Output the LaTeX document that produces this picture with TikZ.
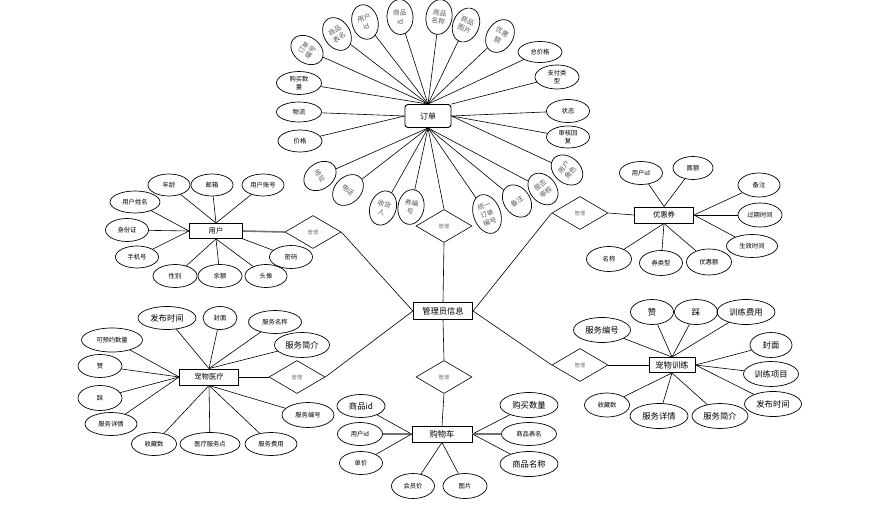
\documentclass[tikz,border=0pt]{standalone}
\usepackage{fontspec}
\setmainfont{Noto Sans CJK SC}
\usetikzlibrary{shapes.geometric}
\begin{document}
\begin{tikzpicture}[x=1pt,y=-1pt,
  ln/.style={line width=0.6pt},
  thk/.style={line width=1.6pt,black!55},
  sz/.style 2 args={minimum width=#1pt,minimum height=#2pt},
  attr/.style={ellipse,draw,line width=0.7pt,inner sep=0pt,align=center,
    font=\fontsize{6.3}{7.3}\selectfont,minimum width=43pt,minimum height=22pt},
  big/.style={font=\fontsize{8.3}{9}\selectfont},
  rotx/.style={attr,font=\fontsize{6.8}{8.6}\selectfont,minimum width=26pt,minimum height=35pt,text=black!65,rotate=#1},
  ent/.style={draw,line width=0.9pt,inner sep=0pt,font=\fontsize{7.3}{8}\selectfont},
  dia/.style={diamond,draw,line width=0.6pt,inner sep=0pt,minimum width=56pt,
    minimum height=33pt,font=\fontsize{5.3}{6}\selectfont,text=black!55}]
\useasboundingbox[fill=white] (0,0) rectangle (876,511);

% ---------- entities ----------
\node[ent,rounded corners=3pt,sz={46}{23},font=\fontsize{8}{9}\selectfont] (order) at (428,116) {订单};
\node[ent,sz={53}{15}] (user) at (216,231) {用户};
\node[ent,sz={59}{16}] (coupon) at (664,215) {优惠券};
\node[ent,sz={59}{16}] (med) at (209,377) {宠物医疗};
\node[ent,sz={60}{16},font=\fontsize{8.3}{9}\selectfont] (cart) at (442,434) {购物车};
\node[ent,sz={46}{15},font=\fontsize{8.3}{9}\selectfont] (train) at (672,365) {宠物训练};
\node[ent,sz={59}{17},line width=1.2pt,font=\fontsize{8.3}{9}\selectfont] (admin) at (443,311) {管理员信息};

% ---------- diamonds ----------
\node[dia] (dUser) at (313,232) {管理};
\node[dia] (dOrder) at (444,226) {管理};
\node[dia] (dCoupon) at (580,213) {管理};
\node[dia] (dMed) at (297,377) {管理};
\node[dia] (dCart) at (444,377) {管理};
\node[dia] (dTrain) at (580,365) {管理};

% ---------- order attributes ----------
\node[rotx=55] (o1) at (307,50) {订单\\编号};
\node[rotx=32] (o2) at (337,34) {商品\\表名};
\node[rotx=15] (o3) at (365,22) {用户\\id};
\node[rotx=3] (o4) at (400,17) {商品\\id};
\node[rotx=-10] (o5) at (439,17) {商品\\名称};
\node[rotx=-22] (o6) at (466,25) {商品\\图片};
\node[rotx=-32] (o7) at (500,36) {优惠\\额};
\node[attr,sz={44}{21}] (o8) at (540,52) {总价格};
\node[attr,sz={44}{24}] (o9) at (557,77) {支付类\\型};
\node[attr,sz={45}{23}] (o10) at (299,83) {购买数\\量};
\node[attr,sz={45}{20}] (o11) at (299,112) {物流};
\node[attr,sz={44}{22}] (o12) at (300,141) {价格};
\node[attr,sz={43}{23}] (o13) at (568,111) {状态};
\node[attr,sz={43}{22}] (o14) at (568,137) {审核回\\复};
\node[rotx=50] (o15) at (567,170) {用户\\角色};
\node[rotx=40] (o16) at (543,189) {是否\\审核};
\node[rotx=35] (o17) at (517,201) {备注};
\node[rotx=20,minimum height=40pt,minimum width=27pt] (o18) at (487,214) {统一\\订单\\编号};
\node[rotx=-10] (o19) at (411,207) {券编\\号};
\node[rotx=-20] (o20) at (383,208) {收货\\人};
\node[rotx=-45] (o21) at (348,190) {电话};
\node[rotx=-55] (o22) at (320,176) {地址};

\foreach \n in {o1,o2,o3,o4,o5,o6,o7,o8,o10} \draw[ln] (\n) -- (order.north);
\draw[ln] (o9) -- (order.north east);
\foreach \n in {o11,o12} \draw[ln] (\n) -- (order.west);
\foreach \n in {o13,o14,o15} \draw[ln] (\n) -- (order.east);
\foreach \n in {o16,o17,o18,o19,o20,o21,o22} \draw[ln] (\n) -- (order.south);

% ---------- user attributes ----------
\node[attr,sz={42}{22}] (u1) at (169,185) {年龄};
\node[attr,sz={42}{22}] (u2) at (212,185) {邮箱};
\node[attr,sz={42}{22}] (u3) at (263,185) {用户账号};
\node[attr,sz={50}{22}] (u4) at (135,202) {用户姓名};
\node[attr,sz={43}{23}] (u5) at (127,230) {身份证};
\node[attr,sz={43}{22}] (u6) at (137,257) {手机号};
\node[attr,sz={44}{23}] (u7) at (175,276) {性别};
\node[attr,sz={44}{23}] (u8) at (220,276) {余额};
\node[attr,sz={42}{23}] (u9) at (266,276) {头像};
\node[attr,sz={43}{23}] (u10) at (291,257) {密码};
\foreach \n in {u1,u2,u3} \draw[ln] (\n) -- (user.north);
\foreach \n in {u4,u5,u6} \draw[ln] (\n) -- (user.west);
\foreach \n in {u7,u8,u9} \draw[ln] (\n) -- (user.south);
\draw[ln] (u10) -- (user.south east);

% ---------- coupon attributes ----------
\node[attr,sz={43}{23}] (c1) at (641,173) {用户id};
\node[attr,sz={40}{23}] (c2) at (693,168) {面额};
\node[attr,sz={42}{24}] (c3) at (759,185) {备注};
\node[attr,sz={44}{24}] (c4) at (760,215) {过期时间};
\node[attr,sz={51}{23}] (c5) at (752,246) {生效时间};
\node[attr,sz={45}{25}] (c6) at (609,259) {名称};
\node[attr,sz={43}{25}] (c7) at (661,263) {券类型};
\node[attr,sz={45}{26}] (c8) at (709,262) {优惠额};
\foreach \n in {c1,c2} \draw[ln] (\n) -- (coupon.north);
\foreach \n in {c3,c4,c5} \draw[ln] (\n) -- (coupon.east);
\foreach \n in {c6,c7,c8} \draw[ln] (\n) -- (coupon.south);

% ---------- pet medical attributes ----------
\node[attr,big,sz={58}{23}] (m1) at (167,318) {发布时间};
\node[attr,sz={34}{23}] (m2) at (220,318) {封面};
\node[attr,sz={53}{23}] (m3) at (275,322) {服务名称};
\node[attr,big,sz={55}{25}] (m4) at (302,345) {服务简介};
\node[attr,sz={61}{24}] (m5) at (112,340) {可预约数量};
\node[attr,sz={44}{23}] (m6) at (100,366) {赞};
\node[attr,sz={44}{25}] (m7) at (100,398) {踩};
\node[attr,sz={52}{23}] (m8) at (111,424) {服务详情};
\node[attr,sz={45}{23}] (m9) at (154,444) {收藏数};
\node[attr,sz={60}{23}] (m10) at (210,444) {医疗服务点};
\node[attr,sz={52}{23}] (m11) at (271,444) {服务费用};
\node[attr,sz={52}{25}] (m12) at (308,415) {服务编号};
\foreach \n in {m1,m2,m3,m4} \draw[ln] (\n) -- (med.north);
\foreach \n in {m5,m6,m7,m8} \draw[ln] (\n) -- (med.west);
\foreach \n in {m9,m10,m11,m12} \draw[ln] (\n) -- (med.south);

% ---------- cart attributes ----------
\node[attr,big,sz={48}{23}] (s1) at (361,406) {商品id};
\node[attr,sz={45}{23}] (s2) at (360,434) {用户id};
\node[attr,sz={43}{23}] (s3) at (361,463) {单价};
\node[attr,sz={43}{25}] (s4) at (413,486) {会员价};
\node[attr,sz={44}{25}] (s5) at (465,486) {图片};
\node[attr,big,sz={58}{25}] (s6) at (529,405) {购买数量};
\node[attr,sz={55}{23}] (s7) at (529,434) {商品表名};
\node[attr,big,sz={58}{25}] (s8) at (529,464) {商品名称};
\draw[ln] (s1) -- (cart.west);
\draw[thk] (s2) -- (cart.west);
\draw[ln] (s3) -- (cart.west);
\foreach \n in {s4,s5} \draw[ln] (\n) -- (cart.south);
\draw[ln] (s6) -- (cart.east);
\draw[thk] (s7) -- (cart.east);
\draw[ln] (s8) -- (cart.east);

% ---------- pet training attributes ----------
\node[attr,big,sz={57}{25}] (t1) at (602,330) {服务编号};
\node[attr,big,sz={43}{25}] (t2) at (652,312) {赞};
\node[attr,big,sz={43}{25}] (t3) at (696,312) {踩};
\node[attr,big,sz={58}{25}] (t4) at (746,312) {训练费用};
\node[attr,big,sz={42}{25}] (t5) at (771,345) {封面};
\node[attr,big,sz={55}{25}] (t6) at (771,374) {训练项目};
\node[attr,big,sz={57}{25}] (t7) at (773,404) {发布时间};
\node[attr,big,sz={56}{25}] (t8) at (720,416) {服务简介};
\node[attr,big,sz={58}{25}] (t9) at (659,416) {服务详情};
\node[attr,sz={45}{24}] (t10) at (607,405) {收藏数};
\foreach \n in {t1,t2,t3,t4} \draw[ln] (\n) -- (train.north);
\foreach \n in {t5,t6,t7} \draw[ln] (\n) -- (train.east);
\foreach \n in {t8,t9,t10} \draw[ln] (\n) -- (train.south);

% ---------- relationships ----------
\draw[thk] (user.east) -- (dUser.west);
\draw[ln] (dUser.east) -- (admin.west);
\draw[ln] (order.south) -- (dOrder.north);
\draw[ln] (dOrder.south) -- (admin.north);
\draw[ln] (dCoupon.west) -- (admin.east);
\draw[ln] (dCoupon.east) -- (coupon.west);
\draw[ln] (dMed.east) -- (admin.west);
\draw[ln] (dMed.west) -- (med.east);
\draw[ln] (admin.south) -- (dCart.north);
\draw[ln] (dCart.south) -- (cart.north);
\draw[ln] (admin.east) -- (dTrain.west);
\draw[ln] (dTrain.east) -- (train.west);
\end{tikzpicture}
\end{document}
